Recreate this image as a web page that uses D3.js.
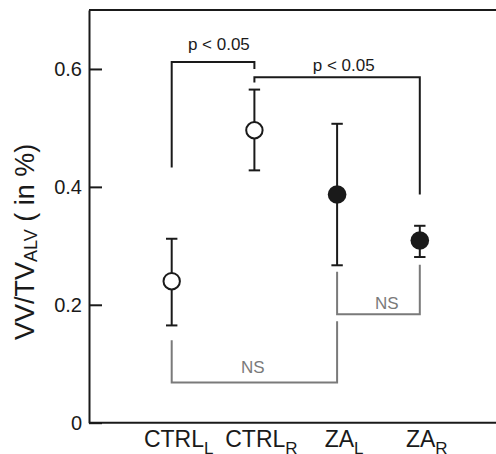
<!DOCTYPE html>
<html>
<head>
<meta charset="utf-8">
<script src="https://cdn.jsdelivr.net/npm/d3@7"></script>
<style>
  body { margin: 0; background: #fff; }
  svg { display: block; font-family: "Liberation Sans", Arial, sans-serif; }
</style>
</head>
<body>
<div id="chart"></div>
<script>
// Data
const groupNames = ['CTRL', 'CTRL', 'ZA', 'ZA'];
const groupSubs = ['L', 'R', 'L', 'R'];
const means = [0.240, 0.496, 0.387, 0.309];
const upper = [0.312, 0.565, 0.507, 0.334];
const lower = [0.165, 0.428, 0.267, 0.281];
const filled = [false, false, true, true];
const yTicks = [0, 0.2, 0.4, 0.6];

// significance brackets: from group, to group, left end, right end, bar level, label, label pos, label y
const bracketFrom = [0, 1, 0, 2];
const bracketTo = [1, 3, 2, 3];
const bracketLeftEnd = [0.433, 0.577, 0.140, 0.256];
const bracketRightEnd = [0.600, 0.387, 0.172, 0.268];
const bracketLevel = [0.612, 0.586, 0.068, 0.184];
const bracketLabels = ['p < 0.05', 'p < 0.05', 'NS', 'NS'];
const bracketLabelX = [1.57, 3.08, 1.98, 3.6];
const bracketLabelY = [0.633, 0.597, 0.085, 0.193];
const bracketSig = [true, true, false, false];

const W = 496, H = 454;
const svg = d3.select('#chart').append('svg')
    .attr('width', W)
    .attr('height', H);

const x = d3.scaleLinear().domain([0, 5]).range([89, 502.5]);
const y = d3.scaleLinear().domain([0, 0.7]).range([422.7, 10]);

const ink = '#1a1a1a';
const grey = '#7a7a7a';

// Frame (top and bottom lines run off the right edge)
svg.append('line')
    .attr('x1', x(0)).attr('x2', W + 10)
    .attr('y1', y(0.7)).attr('y2', y(0.7))
    .attr('stroke', ink).attr('stroke-width', 2);
svg.append('line')
    .attr('x1', x(0)).attr('x2', W + 10)
    .attr('y1', y(0)).attr('y2', y(0))
    .attr('stroke', ink).attr('stroke-width', 2);

// Y axis with inward ticks
const yAxis = svg.append('g')
    .attr('transform', `translate(${x(0)},0)`)
    .call(d3.axisLeft(y)
        .tickValues(yTicks)
        .tickSizeInner(-13)
        .tickSizeOuter(0)
        .tickPadding(7)
        .tickFormat(d => d === 0 ? '0' : d3.format('.1f')(d)));
yAxis.select('.domain').attr('stroke', ink).attr('stroke-width', 2);
yAxis.selectAll('.tick line').attr('stroke', ink).attr('stroke-width', 2);
yAxis.selectAll('.tick text')
    .attr('fill', ink)
    .style('font-size', '20px')
    .style('font-family', '"Liberation Sans", Arial, sans-serif');

// Y axis title
const yTitle = svg.append('text')
    .attr('transform', 'translate(34,340) rotate(-90)')
    .attr('fill', ink)
    .style('font-size', '27px');
yTitle.append('tspan').text('VV/TV');
yTitle.append('tspan').attr('dy', 3).style('font-size', '18px').text('ALV');
yTitle.append('tspan').attr('dy', -3).text(' ( in %)');

// X labels
const idx = d3.range(means.length);
svg.selectAll('.xlab')
    .data(idx)
    .enter().append('text')
    .attr('class', 'xlab')
    .attr('x', i => x(i + 1) + 7)
    .attr('y', 447)
    .attr('text-anchor', 'middle')
    .attr('fill', ink)
    .style('font-size', '23px')
    .each(function (i) {
        const t = d3.select(this);
        t.append('tspan').text(groupNames[i]);
        t.append('tspan').attr('dy', 7).style('font-size', '17px').text(groupSubs[i]);
    });

// Brackets
const bracket = svg.selectAll('.bracket')
    .data(idx)
    .enter().append('g')
    .attr('class', 'bracket');

bracket.append('path')
    .attr('fill', 'none')
    .attr('stroke', i => bracketSig[i] ? ink : grey)
    .attr('stroke-width', 2)
    .attr('d', i => {
        const p = d3.path();
        p.moveTo(x(bracketFrom[i] + 1), y(bracketLeftEnd[i]));
        p.lineTo(x(bracketFrom[i] + 1), y(bracketLevel[i]));
        p.lineTo(x(bracketTo[i] + 1), y(bracketLevel[i]));
        p.lineTo(x(bracketTo[i] + 1), y(bracketRightEnd[i]));
        return p.toString();
    });

bracket.append('text')
    .attr('x', i => x(bracketLabelX[i]))
    .attr('y', i => y(bracketLabelY[i]))
    .attr('text-anchor', 'middle')
    .attr('fill', i => bracketSig[i] ? ink : grey)
    .style('font-size', '17px')
    .text(i => bracketLabels[i]);

// Error bars
const cap = 5.7;
const err = svg.selectAll('.err')
    .data(idx)
    .enter().append('g')
    .attr('class', 'err')
    .attr('stroke', ink)
    .attr('stroke-width', 2);

err.append('line')
    .attr('x1', i => x(i + 1)).attr('x2', i => x(i + 1))
    .attr('y1', i => y(lower[i])).attr('y2', i => y(upper[i]));
err.append('line')
    .attr('x1', i => x(i + 1) - cap).attr('x2', i => x(i + 1) + cap)
    .attr('y1', i => y(upper[i])).attr('y2', i => y(upper[i]));
err.append('line')
    .attr('x1', i => x(i + 1) - cap).attr('x2', i => x(i + 1) + cap)
    .attr('y1', i => y(lower[i])).attr('y2', i => y(lower[i]));

// Points
svg.selectAll('.pt')
    .data(idx)
    .enter().append('circle')
    .attr('class', 'pt')
    .attr('cx', i => x(i + 1))
    .attr('cy', i => y(means[i]))
    .attr('r', i => filled[i] ? 9.3 : 8.2)
    .attr('fill', i => filled[i] ? ink : '#fff')
    .attr('stroke', ink)
    .attr('stroke-width', i => filled[i] ? 0 : 2);
</script>
</body>
</html>
